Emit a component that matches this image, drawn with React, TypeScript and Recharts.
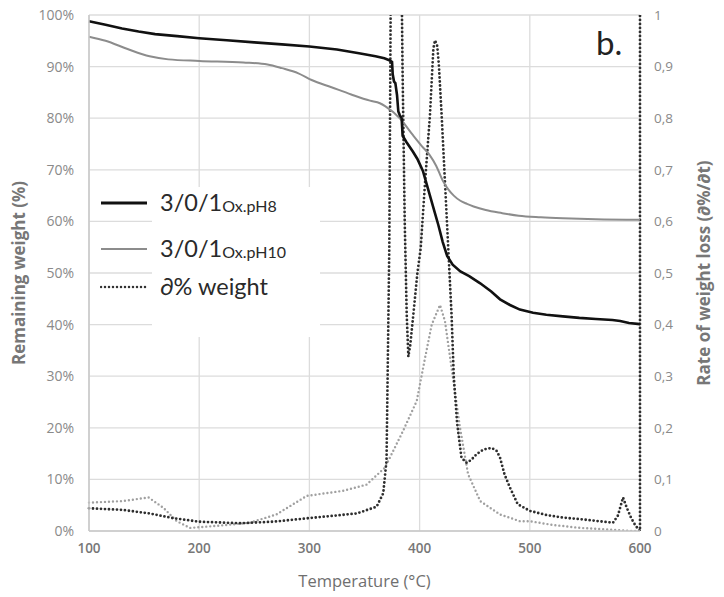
import React from "react";
import { LineChart, Line, XAxis, YAxis, CartesianGrid, Legend } from "recharts";

// Temperature axis ticks (°C)
const tempTicks = [100, 200, 300, 400, 500, 600];
const weightTicks = [0, 10, 20, 30, 40, 50, 60, 70, 80, 90, 100];
const rateTicks = [0, 0.1, 0.2, 0.3, 0.4, 0.5, 0.6, 0.7, 0.8, 0.9, 1];

// 3/0/1 Ox.pH8 remaining weight (%)
const pH8Temps = [100, 115, 130, 145, 160, 180, 200, 225, 250, 275, 300, 325, 345, 360, 368, 373, 375, 375.6, 376.8, 378, 379.5, 380.7, 382, 383.7, 384.6, 388, 394, 398, 403, 409, 413, 417, 421, 425, 430, 437, 445, 455, 465, 473, 482, 491, 503, 515, 530, 545, 560, 575, 582, 590, 600];
const pH8Weight = [98.8, 98.1, 97.4, 96.8, 96.3, 95.9, 95.5, 95.1, 94.7, 94.3, 93.9, 93.3, 92.6, 92.0, 91.6, 91.2, 90.9, 88.5, 87.1, 86.8, 84.5, 81.3, 80.6, 80.0, 76.6, 75.4, 73.5, 72.1, 69.8, 65.3, 62.3, 59.3, 56.0, 53.3, 51.6, 50.3, 49.4, 48.0, 46.4, 44.9, 43.8, 42.9, 42.3, 41.9, 41.6, 41.3, 41.1, 40.9, 40.7, 40.3, 40.1];

// 3/0/1 Ox.pH10 remaining weight (%)
const pH10Temps = [100, 115, 135, 155, 172, 200, 240, 262, 275, 290, 302, 320, 338, 355, 364, 369, 382, 394, 402, 409, 415, 421, 426, 431, 437, 443, 449, 460, 475, 490, 510, 530, 560, 600];
const pH10Weight = [95.8, 95.0, 93.4, 92.0, 91.4, 91.1, 90.8, 90.4, 89.7, 88.7, 87.4, 86.0, 84.6, 83.4, 82.9, 82.3, 80.0, 76.7, 74.6, 72.9, 70.8, 67.9, 66.2, 65.0, 64.0, 63.4, 62.9, 62.2, 61.6, 61.1, 60.8, 60.6, 60.4, 60.3];

// ∂% weight, pH8 sample (dark dotted)
const pH8RateTemps = [100, 130, 155, 176, 200, 237, 267, 300, 343, 361, 367, 370, 372.5, 374.5, 378, 382.5, 384.5, 386.5, 388.3, 389.8, 391.5, 394.3, 398, 401, 405, 409.4, 412.5, 414, 416, 417.5, 420, 423, 426, 429, 431, 434, 438, 442.7, 447, 451.8, 458, 465.4, 470, 473, 477, 482, 489, 500, 515, 530, 550, 575.5, 580, 584.6, 588, 592, 596, 600, 600];
const pH8Rate = [0.044, 0.041, 0.034, 0.025, 0.018, 0.015, 0.018, 0.025, 0.034, 0.047, 0.073, 0.137, 0.55, 1.3, 1.6, 1.3, 0.9, 0.6, 0.42, 0.338, 0.36, 0.419, 0.5, 0.548, 0.677, 0.806, 0.935, 0.951, 0.94, 0.903, 0.806, 0.677, 0.548, 0.419, 0.3, 0.21, 0.142, 0.132, 0.138, 0.149, 0.158, 0.161, 0.155, 0.142, 0.11, 0.084, 0.052, 0.039, 0.031, 0.026, 0.022, 0.016, 0.03, 0.065, 0.045, 0.025, 0.01, 0.0, 1.05];

// ∂% weight, pH10 sample (light dotted)
const pH10RateTemps = [100, 131, 154, 167.5, 179.6, 191.7, 216, 246, 270, 297.6, 330.8, 352, 368.6, 385, 397.4, 405, 411, 418.5, 423, 429, 436.7, 444, 455, 473, 491, 500, 520, 545.5, 570, 591, 600];
const pH10Rate = [0.055, 0.058, 0.065, 0.045, 0.019, 0.006, 0.01, 0.016, 0.032, 0.068, 0.078, 0.09, 0.123, 0.194, 0.252, 0.336, 0.4, 0.438, 0.407, 0.316, 0.2, 0.11, 0.058, 0.032, 0.019, 0.019, 0.012, 0.006, 0.003, 0.0, 0.0];

const zip = (t: number[], v: number[]) => t.map((x, i) => ({ t: x, v: v[i] }));

const pH8WeightData = zip(pH8Temps, pH8Weight);
const pH10WeightData = zip(pH10Temps, pH10Weight);
const pH8RateData = zip(pH8RateTemps, pH8Rate);
const pH10RateData = zip(pH10RateTemps, pH10Rate);

const FONT = "'Open Sans', 'Noto Sans', sans-serif";

const LegendContent = () => {
  const rows = [
    { main: "3/0/1", sub: "Ox.pH8", stroke: "#111", width: 2.8, dash: undefined as string | undefined, y: 18 },
    { main: "3/0/1", sub: "Ox.pH10", stroke: "#8c8c8c", width: 2, dash: undefined as string | undefined, y: 64 },
    { main: "∂% weight", sub: "", stroke: "#333", width: 2.5, dash: "0 4", y: 102 },
  ];
  return (
    <div style={{ position: "relative", width: 240, height: 160, fontFamily: "Lato, 'Noto Sans', sans-serif" }}>
      <div style={{ position: "absolute", left: 62, top: 2, width: 168, height: 150, background: "#fff" }} />
      {rows.map((r, i) => (
        <React.Fragment key={i}>
          <svg style={{ position: "absolute", left: 10, top: r.y - 5 }} width={48} height={10}>
            <line x1={1} y1={5} x2={47} y2={5} stroke={r.stroke} strokeWidth={r.width} strokeDasharray={r.dash} strokeLinecap={r.dash ? "round" : "butt"} />
          </svg>
          <div style={{ position: "absolute", left: 70, top: r.y - 16, whiteSpace: "nowrap", color: "#2a2a2a", lineHeight: "30px" }}>
            <span style={{ fontSize: 23.5 }}>{r.main}</span>
            {r.sub ? <span style={{ fontSize: 16, position: "relative", top: 1 }}>{r.sub}</span> : null}
          </div>
        </React.Fragment>
      ))}
    </div>
  );
};

export default function App() {
  return (
    <div style={{ position: "absolute", left: 0, top: 0, width: 724, height: 597, background: "#fff" }}>
      <LineChart width={724} height={597} margin={{ top: 15, right: 0, bottom: 0, left: 0 }}>
        <CartesianGrid stroke="#dcdcdc" strokeWidth={1.3} yAxisId="left" />
        <XAxis
          type="number"
          dataKey="t"
          domain={[100, 600]}
          ticks={tempTicks}
          allowDuplicatedCategory={false}
          height={66}
          tickLine={false}
          axisLine={{ stroke: "#c8c8c8", strokeWidth: 1.5 }}
          tickSize={0}
          tickMargin={12}
          tick={{ fill: "#777", fontSize: 13.5, fontWeight: 600, fontFamily: FONT }}
          label={{ value: "Temperature (°C)", position: "insideBottom", offset: 10, fill: "#6f6f6f", fontSize: 16.5, fontFamily: FONT }}
        />
        <YAxis
          yAxisId="left"
          type="number"
          domain={[0, 100]}
          ticks={weightTicks}
          width={89}
          tickLine={false}
          axisLine={{ stroke: "#c8c8c8", strokeWidth: 1.5 }}
          tickSize={0}
          tickMargin={15}
          tickFormatter={(v: number) => `${v}%`}
          tick={{ fill: "#8a8a8a", fontSize: 14, fontFamily: FONT }}
          label={{ value: "Remaining weight (%)", angle: -90, position: "insideLeft", offset: 19, fill: "#777", fontSize: 17, fontWeight: 700, fontFamily: FONT, style: { textAnchor: "middle" } }}
        />
        <YAxis
          yAxisId="right"
          orientation="right"
          type="number"
          domain={[0, 1]}
          ticks={rateTicks}
          allowDataOverflow
          width={84}
          tickLine={false}
          axisLine={false}
          tickSize={0}
          tickMargin={14}
          tickFormatter={(v: number) => String(v).replace(".", ",")}
          tick={{ fill: "#8a8a8a", fontSize: 13.5, fontFamily: FONT, textAnchor: "start" }}
          label={{ value: "Rate of weight loss (∂%/∂t)", angle: -90, position: "insideRight", offset: 20, fill: "#777", fontSize: 17, fontWeight: 700, fontFamily: FONT, style: { textAnchor: "middle" } }}
        />
        <Legend layout="vertical" align="center" verticalAlign="middle" wrapperStyle={{ left: 90, top: 185, width: 240, height: 160 }} content={() => <LegendContent />} />
        <Line yAxisId="right" data={pH10RateData} dataKey="v" type="linear" stroke="#a0a0a0" strokeWidth={2.4} strokeDasharray="0 4" strokeLinecap="round" dot={false} activeDot={false} isAnimationActive={false} name="pH10 rate" />
        <Line yAxisId="right" data={pH8RateData} dataKey="v" type="linear" stroke="#2e2e2e" strokeWidth={2.8} strokeDasharray="0 4" strokeLinecap="round" dot={false} activeDot={false} isAnimationActive={false} name="∂% weight" />
        <Line yAxisId="left" data={pH10WeightData} dataKey="v" type="monotone" stroke="#8c8c8c" strokeWidth={2} dot={false} activeDot={false} isAnimationActive={false} name="3/0/1Ox.pH10" />
        <Line yAxisId="left" data={pH8WeightData} dataKey="v" type="linear" stroke="#111" strokeWidth={2.6} dot={false} activeDot={false} isAnimationActive={false} name="3/0/1Ox.pH8" />
      </LineChart>
      <div style={{ position: "absolute", left: 596, top: 22, fontSize: 33, color: "#222", fontFamily: "Lato, 'Noto Sans', sans-serif", lineHeight: "40px" }}>b.</div>
    </div>
  );
}
